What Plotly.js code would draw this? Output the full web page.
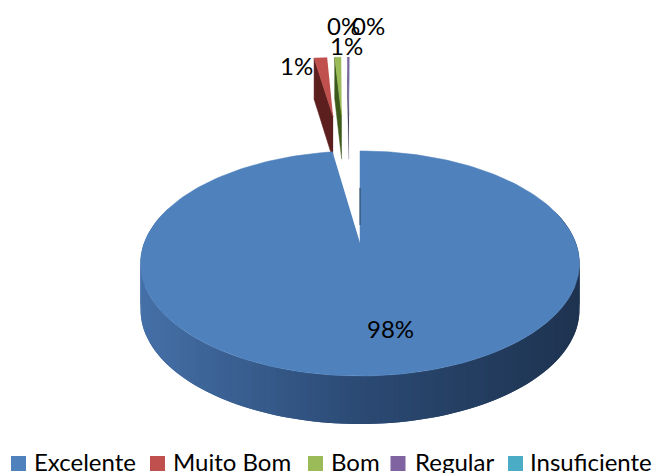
<!DOCTYPE html>
<html><head><meta charset="utf-8">
<script src="https://cdn.plot.ly/plotly-3.0.0.min.js"></script>
<style>html,body{margin:0;padding:0;background:#fff}#c{width:658px;height:473px}</style>
</head><body><div id="c"></div>
<script>
// Data
const categories = ['Excelente','Muito Bom','Bom','Regular','Insuficiente'];
const shares = [97.6, 1.4, 0.7, 0.2, 0.1];
const percentLabels = ['98%','1%','1%','0%','0%'];
// Style / layout
const topColors = ['#4f81bd','#c0504d','#9bbb59','#8064a2','#4bacc6'];
const wallColors = ['#23395a','#5c1f1d','#3d5a1a','#3c2c55','#2a6a7c'];
const explode = [0, 1.48, 1.48, 1.48, 1.48];
const explodeShiftU = [0, 0, -0.047, -0.047, -0.062];
const wallWidth = [0, 0.5, 0.5, 0.2, 0.1];
const labelX = [390.5, 296.5, 346, 343.5, 368];
const labelY = [328, 65, 45, 25, 25];
const swatchX = [18.5, 157.5, 315.5, 398, 515.5];
const legendTextX = [32, 171, 329, 412.5, 528];
const legendY = 461;
const swatchY = 463.5;
const cx = 360, cy = 243, kx = 215.8, ky = 108.8, persp = -0.182;

function project(u, v, drop) {
  const w = 1 + persp * v;
  return [cx + kx * u / w, cy + ky * v / w + (drop ? 46 + 2 * v : 0)];
}
const total = shares.reduce((a, b) => a + b, 0);
const traces = [];
function poly(pts, color, lw) {
  traces.push({type:'scatter', mode:'lines', x:pts.map(p=>p[0]), y:pts.map(p=>p[1]),
    fill:'toself', fillcolor:color, line:{color:color, width:lw===undefined?0.8:lw},
    hoverinfo:'skip', showlegend:false});
}
function mix(a, b, t) {
  const c = (h,i)=>parseInt(h.substr(1+2*i,2),16);
  return 'rgb('+[0,1,2].map(i=>Math.round(c(a,i)+(c(b,i)-c(a,i))*t)).join(',')+')';
}
function sideColor(x) {
  const t = Math.min(1, Math.max(0, (x - 141) / 439));
  return t < 0.5 ? mix('#4570a8', '#2b4a74', t * 2) : mix('#2b4a74', '#1e3350', (t - 0.5) * 2);
}
let acc = 0;
const slices = shares.map((s, i) => {
  const a0 = acc / total * 2 * Math.PI; acc += s;
  const a1 = acc / total * 2 * Math.PI;
  const mid = (a0 + a1) / 2, e = explode[i];
  const ou = e * Math.sin(mid) + explodeShiftU[i], ov = -e * Math.cos(mid);
  const at = (a, r, drop) => project(ou + r * Math.sin(a), ov - r * Math.cos(a), drop);
  return {a0, a1, at, i};
});
// exploded slices (last categories first so the thinnest lie underneath)
slices.slice(1).reverse().forEach(s => {
  const N = 8, top = [s.at(s.a0,0,false)];
  for (let k = 0; k <= N; k++) top.push(s.at(s.a0 + (s.a1 - s.a0) * k / N, 1, false));
  poly([s.at(s.a0,0,false), s.at(s.a0,1,false), s.at(s.a0,1,true), s.at(s.a0,0,true)], wallColors[s.i], wallWidth[s.i]);
  poly(top, topColors[s.i], wallWidth[s.i]);
});
// main slice rim: overlapping strips drawn in order, so no seams
const main = slices[0];
const STRIPS = 150;
for (let k = 0; k < STRIPS; k++) {
  const a = Math.PI * 0.4 + (Math.PI * 1.2) * k / STRIPS;
  const b = Math.PI * 0.4 + (Math.PI * 1.2) * (k + 2) / STRIPS;
  const p = main.at(a,1,false), q = main.at(b,1,false);
  poly([p, q, main.at(b,1,true), main.at(a,1,true)], sideColor(p[0]), 0);
}
// main slice top
const topPts = [main.at(main.a0,0,false)];
for (let k = 0; k <= 240; k++) topPts.push(main.at(main.a0 + (main.a1 - main.a0) * k / 240, 1, false));
poly(topPts, topColors[0], 0.5);
// the cut wall seen edge-on
const w0 = main.at(main.a0,0.45,false), w1 = main.at(main.a0,0,false);
traces.push({type:'scatter', mode:'lines', x:[w0[0],w0[0]], y:[w0[1]-10,w1[1]-18],
  line:{color:'#2a4464',width:1}, hoverinfo:'skip', showlegend:false});
// legend swatches
traces.push({type:'scatter', mode:'markers', x:swatchX, y:swatchX.map(()=>swatchY),
  marker:{symbol:'square', size:15, color:topColors, line:{width:0}}, hoverinfo:'skip', showlegend:false});

const fam = 'Lato, "Open Sans", sans-serif';
const annotations = [];
categories.forEach((c, i) => {
  annotations.push({x:legendTextX[i], y:legendY, xref:'x', yref:'y', text:c, showarrow:false,
    xanchor:'left', yanchor:'middle', font:{family:fam, size:24, color:'#000'}});
  annotations.push({x:labelX[i], y:labelY[i], xref:'x', yref:'y', text:percentLabels[i], showarrow:false,
    xanchor:'center', yanchor:'middle', font:{family:fam, size:24, color:'#000'}});
});
Plotly.newPlot('c', traces, {
  width:658, height:473, margin:{l:0,r:0,t:0,b:0}, paper_bgcolor:'#fff', plot_bgcolor:'#fff',
  showlegend:false, annotations,
  xaxis:{range:[0,658], visible:false, fixedrange:true},
  yaxis:{range:[473,0], visible:false, fixedrange:true}
}, {displayModeBar:false, staticPlot:true});
</script></body></html>
